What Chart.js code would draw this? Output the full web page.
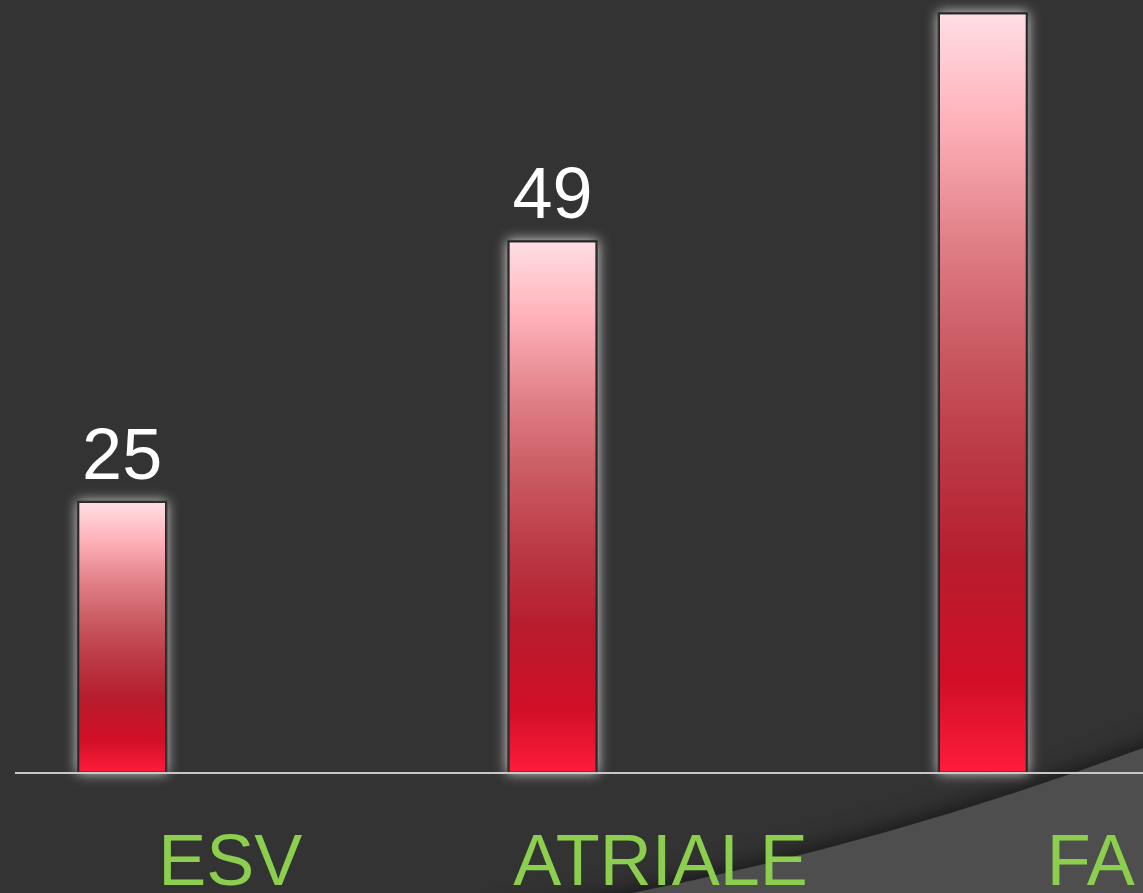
<!DOCTYPE html>
<html lang="it">
<head>
  <meta charset="UTF-8" />
  <title>ESV / ATRIALE / FA</title>
  <script src="https://cdn.jsdelivr.net/npm/chart.js"></script>
  <style>
    html, body {
      margin: 0;
      padding: 0;
      background-color: #333333;
      overflow: hidden;
      width: 1143px;
      height: 893px;
    }
    /* the chart is wider than the slide and shifted left, like the cropped original */
    .chart-wrap {
      position: absolute;
      left: -108px;
      top: 0;
      width: 1306px;
      height: 893px;
    }
  </style>
</head>
<body>
  <div class="chart-wrap">
    <canvas id="barChart"></canvas>
  </div>

  <script>
    // Data
    const categories = ['ESV', 'ATRIALE', 'FA'];
    const values = [25, 49, 70];

    const SHIFT = 108; // canvas x of the page's left edge

    // Pink-to-red gradient for each bar, from its top down to the axis
    function barGradient(context) {
      const chart = context.chart;
      const yScale = chart.scales.y;
      if (!chart.chartArea || !yScale || context.parsed == null) return '#c8283a';
      const top = yScale.getPixelForValue(context.parsed.y);
      const bottom = yScale.getPixelForValue(0);
      const g = chart.ctx.createLinearGradient(0, top, 0, bottom);
      g.addColorStop(0, '#ffdfe5');
      g.addColorStop(0.14, '#ffb2ba');
      g.addColorStop(0.3, '#e17f86');
      g.addColorStop(0.42, '#cc5f67');
      g.addColorStop(0.58, '#bb3945');
      g.addColorStop(0.72, '#b71d2e');
      g.addColorStop(0.88, '#d20f27');
      g.addColorStop(1, '#ff1c3a');
      return g;
    }

    // Grey curved panel at the bottom right of the slide
    const backdrop = {
      id: 'backdrop',
      beforeDraw(chart) {
        const ctx = chart.ctx;
        ctx.save();
        ctx.shadowColor = 'rgba(0,0,0,0.55)';
        ctx.shadowBlur = 22;
        ctx.shadowOffsetY = -4;
        ctx.fillStyle = '#4e4e4e';
        ctx.beginPath();
        ctx.moveTo(SHIFT + 500, 916);
        ctx.quadraticCurveTo(SHIFT + 822, 867, SHIFT + 1143, 748);
        ctx.lineTo(SHIFT + 1200, 727);
        ctx.lineTo(SHIFT + 1200, 940);
        ctx.lineTo(SHIFT + 480, 940);
        ctx.closePath();
        ctx.fill();
        ctx.restore();
      }
    };

    // Soft light glow round the bars, drawn underneath them
    const barGlow = {
      id: 'barGlow',
      beforeDatasetsDraw(chart) {
        const ctx = chart.ctx;
        ctx.save();
        ctx.shadowColor = 'rgba(225,225,225,0.95)';
        ctx.shadowBlur = 12;
        ctx.fillStyle = '#3a3a3a';
        chart.getDatasetMeta(0).data.forEach(bar => {
          const w = bar.width;
          ctx.fillRect(bar.x - w / 2 - 1, bar.y - 1, w + 2, bar.base - bar.y + 1);
        });
        ctx.restore();
      }
    };

    // Axis line and value labels
    const overlay = {
      id: 'overlay',
      afterDatasetsDraw(chart) {
        const ctx = chart.ctx;
        const y0 = chart.scales.y.getPixelForValue(0);
        ctx.save();
        ctx.strokeStyle = '#c8c8c8';
        ctx.lineWidth = 2;
        ctx.beginPath();
        ctx.moveTo(SHIFT + 15, y0);
        ctx.lineTo(chart.width, y0);
        ctx.stroke();

        ctx.fillStyle = '#ffffff';
        ctx.font = '72px "Liberation Sans", Arial, sans-serif';
        ctx.textAlign = 'center';
        ctx.textBaseline = 'alphabetic';
        chart.getDatasetMeta(0).data.forEach((bar, i) => {
          ctx.fillText(String(values[i]), bar.x, bar.y - 23);
        });
        ctx.restore();
      }
    };

    const ctx = document.getElementById('barChart').getContext('2d');
    new Chart(ctx, {
      type: 'bar',
      data: {
        labels: categories,
        datasets: [{
          data: values,
          backgroundColor: barGradient,
          borderColor: '#262626',
          borderWidth: 1.5,
          borderSkipped: false,
          barPercentage: 0.206,
          categoryPercentage: 1
        }]
      },
      options: {
        responsive: true,
        maintainAspectRatio: false,
        animation: false,
        layout: { padding: { left: 15, right: 0, top: 0, bottom: 0 } },
        plugins: {
          legend: { display: false },
          tooltip: { enabled: false }
        },
        scales: {
          x: {
            grid: { display: false },
            border: { display: false },
            ticks: {
              color: '#8ccf4f',
              font: { family: '"Liberation Sans", Arial, sans-serif', size: 72 },
              labelOffset: 108,
              padding: 41,
              autoSkip: false,
              maxRotation: 0
            },
            afterFit(scale) { scale.height = 120; }
          },
          y: {
            display: false,
            min: 0,
            max: 71.2
          }
        }
      },
      plugins: [backdrop, barGlow, overlay]
    });
  </script>
</body>
</html>
